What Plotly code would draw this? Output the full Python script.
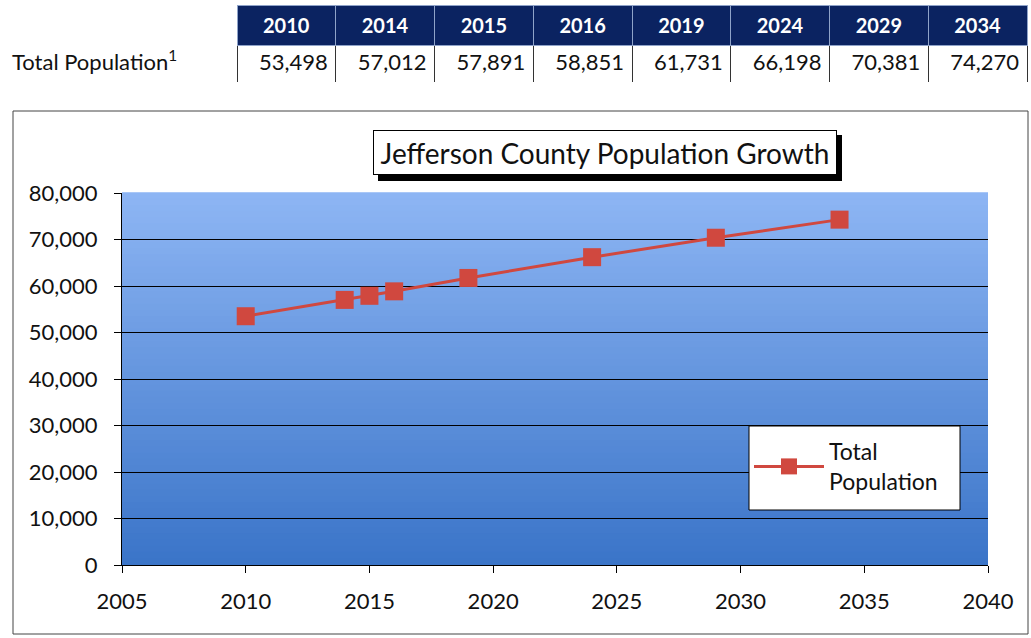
import plotly.graph_objects as go

years = [2010, 2014, 2015, 2016, 2019, 2024, 2029, 2034]
population = [53498, 57012, 57891, 58851, 61731, 66198, 70381, 74270]
pop_labels = ["53,498", "57,012", "57,891", "58,851", "61,731", "66,198", "70,381", "74,270"]
row_label = "Total Population<sup>1</sup>"
chart_title = "Jefferson County Population Growth"
series_name = "Total<br>Population"
y_ticks = [0, 10000, 20000, 30000, 40000, 50000, 60000, 70000, 80000]
x_ticks = [2005, 2010, 2015, 2020, 2025, 2030, 2035, 2040]

W, H = 1031, 638
FONT = "Lato"

def px(x):
    return x / W

def py(y):
    return 1 - y / H

fig = go.Figure()

# Table
fig.add_trace(go.Table(
    domain=dict(x=[px(237), px(1027)], y=[py(82), py(5)]),
    columnwidth=[1] * len(years),
    header=dict(
        values=[f"<b>{y}</b>" for y in years],
        fill_color="#0B2361",
        line=dict(color="#8FA3C9", width=1),
        font=dict(family=FONT, size=20, color="white"),
        align="center",
        height=28,
    ),
    cells=dict(
        values=[[v] for v in pop_labels],
        fill_color="white",
        line=dict(color="#333333", width=1),
        font=dict(family=FONT, size=22, color="#111111"),
        align="right",
        height=38,
    ),
))

fig.add_trace(go.Scatter(
    x=years, y=population, name=series_name,
    mode="lines+markers",
    line=dict(color="#D0483F", width=3),
    marker=dict(symbol="square", size=18, color="#D0483F"),
))

shapes = []
# gradient background bands in plot area
n = 60
top = (0x8E, 0xB6, 0xF4)
bot = (0x3A, 0x74, 0xC8)
for i in range(n):
    t = (i + 0.5) / n
    c = tuple(int(round(top[k] + (bot[k] - top[k]) * t)) for k in range(3))
    shapes.append(dict(
        type="rect", xref="x domain", yref="y domain",
        x0=0, x1=1, y0=1 - (i + 1) / n, y1=1 - i / n + 0.002,
        fillcolor="rgb(%d,%d,%d)" % c, line=dict(width=0), layer="below",
    ))
# outer chart frame
shapes.append(dict(type="rect", xref="paper", yref="paper",
                   x0=px(13), x1=px(1028), y0=py(634), y1=py(111),
                   line=dict(color="#444444", width=1), layer="below"))
# title shadow
shapes.append(dict(type="rect", xref="paper", yref="paper",
                   x0=px(378), x1=px(842), y0=py(181), y1=py(135),
                   fillcolor="black", line=dict(width=0), layer="above"))
# legend box
shapes.append(dict(type="rect", xref="paper", yref="paper",
                   x0=px(749), x1=px(960), y0=py(510), y1=py(426),
                   fillcolor="white", line=dict(color="black", width=1),
                   layer="above"))

annotations = [
    dict(text=row_label, x=px(10), y=py(60), xref="paper", yref="paper",
         xanchor="left", yanchor="middle", showarrow=False,
         font=dict(family=FONT, size=22, color="#111111")),
    dict(text=chart_title, x=px(605), y=py(153), xref="paper", yref="paper",
         xanchor="center", yanchor="middle", showarrow=False,
         width=458, height=39, bgcolor="white", bordercolor="black",
         borderwidth=1, borderpad=2,
         font=dict(family=FONT, size=28, color="#111111")),
]

fig.update_layout(
    width=W, height=H,
    margin=dict(l=0, r=0, t=0, b=0, autoexpand=False),
    paper_bgcolor="white",
    plot_bgcolor="#6495DE",
    shapes=shapes,
    annotations=annotations,
    showlegend=True,
    legend=dict(
        x=px(749), y=py(430), xanchor="left", yanchor="top",
        xref="paper", yref="paper",
        bgcolor="rgba(0,0,0,0)", borderwidth=0,
        font=dict(family=FONT, size=23, color="#111111"),
        itemwidth=70,
    ),
    xaxis=dict(
        domain=[px(122), px(988)],
        range=[2005, 2040], tickvals=x_ticks, showgrid=False,
        ticks="outside", ticklen=7, tickcolor="black",
        ticklabelstandoff=10,
        showline=True, linecolor="black", linewidth=1,
        tickfont=dict(family=FONT, size=22, color="#111111"),
        zeroline=False, automargin=False,
    ),
    yaxis=dict(
        domain=[py(565), py(193)],
        range=[0, 80000], tickvals=y_ticks, tickformat=",d",
        showgrid=True, gridcolor="black", gridwidth=1,
        ticks="outside", ticklen=7, tickcolor="black",
        ticklabelstandoff=12,
        showline=True, linecolor="black", linewidth=1,
        tickfont=dict(family=FONT, size=22, color="#111111"),
        zeroline=False, automargin=False,
    ),
)

fig.write_html("out.html")
